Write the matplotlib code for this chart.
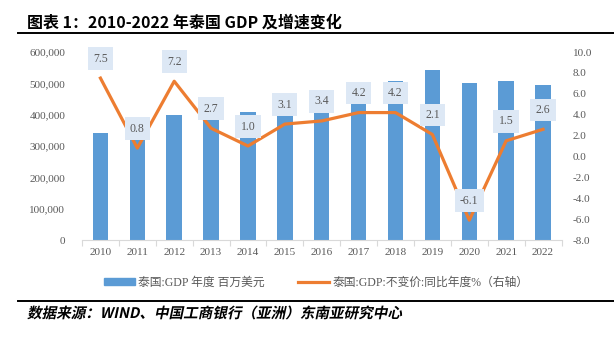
import matplotlib
matplotlib.use("Agg")
import matplotlib.pyplot as plt
from matplotlib.ticker import FuncFormatter, MultipleLocator, FixedLocator
from matplotlib.textpath import TextPath
from matplotlib.patches import PathPatch, Rectangle
from matplotlib.lines import Line2D
from matplotlib.font_manager import FontProperties
from matplotlib.transforms import Affine2D

# Thailand GDP (USD mn) and real GDP growth (% yoy)
years = ["2010", "2011", "2012", "2013", "2014", "2015", "2016",
         "2017", "2018", "2019", "2020", "2021", "2022"]
gdp_usd_mn = [341105, 370819, 397558, 420334, 407339, 401296, 413366,
              456357, 506754, 543977, 500462, 506256, 495423]
growth_pct = [7.5, 0.8, 7.2, 2.7, 1.0, 3.1, 3.4, 4.2, 4.2, 2.1, -6.1, 1.5, 2.6]

title = "图表 1：2010-2022 年泰国 GDP 及增速变化"
source = "数据来源：WIND、中国工商银行（亚洲）东南亚研究中心"
bar_label = "泰国:GDP 年度 百万美元"
line_label = "泰国:GDP:不变价:同比年度%（右轴）"

BLUE = "#5b9bd5"
ORANGE = "#ed7d31"
GREY = "#595959"
serif = ["Liberation Serif", "Noto Sans CJK SC"]

W, H, DPI = 614, 339, 100
fig = plt.figure(figsize=(W / DPI, H / DPI), dpi=DPI)

ax = fig.add_axes([82 / W, 1 - 240 / H, (561.5 - 82) / W, (240 - 52) / H])
x = list(range(len(years)))
ax.bar(x, gdp_usd_mn, width=0.42, color=BLUE, zorder=2)
ax.set_xlim(-0.5, len(years) - 0.5)
ax.set_ylim(0, 600000)
ax.yaxis.set_major_locator(MultipleLocator(100000))
ax.yaxis.set_major_formatter(FuncFormatter(lambda v, p: f"{int(v):,}"))
ax.set_xticks(x)
ax.set_xticklabels(years)
ax.xaxis.set_minor_locator(FixedLocator([i - 0.5 for i in range(len(years) + 1)]))
ax.tick_params(axis="x", which="major", length=0, pad=6)
ax.tick_params(axis="x", which="minor", length=4, color="#d9d9d9", width=0.8)
ax.tick_params(axis="y", length=0, pad=12)
for side in ["top", "left", "right"]:
    ax.spines[side].set_visible(False)
ax.spines["bottom"].set_color("#d9d9d9")

ax2 = ax.twinx()
ax2.plot(x, growth_pct, color=ORANGE, linewidth=2.3, zorder=3)
ax2.set_ylim(-8, 10)
ax2.yaxis.set_major_locator(MultipleLocator(2))
ax2.yaxis.set_major_formatter(FuncFormatter(lambda v, p: f"{v:.1f}"))
ax2.tick_params(axis="y", length=0, pad=8)
for side in ["top", "left", "right", "bottom"]:
    ax2.spines[side].set_visible(False)

for a in (ax, ax2):
    for lab in a.get_xticklabels() + a.get_yticklabels():
        lab.set_family(serif)
        lab.set_fontsize(8)
        lab.set_color(GREY)

# value boxes above each point
for xi, v in zip(x, growth_pct):
    ax2.annotate(f"{v:.1f}", (xi, v), xytext=(0, 14), textcoords="offset points",
                 ha="center", va="center", fontsize=8.5, family=serif, color=GREY,
                 bbox=dict(boxstyle="square,pad=0.45", fc="#dde8f5", ec="none"),
                 zorder=5)

handles = [Rectangle((0, 0), 1, 1, color=BLUE),
           Line2D([0], [0], color=ORANGE, linewidth=2.3)]
fig.legend(handles, [bar_label, line_label], loc="center",
           bbox_to_anchor=(316 / W, 1 - 283 / H), ncol=2, frameon=False,
           prop=FontProperties(family=serif, size=8.5), labelcolor=GREY,
           handlelength=2.6, handleheight=0.5, handletextpad=0.3,
           columnspacing=2.8)

# header and footer
fig.text(27 / W, 1 - 23 / H, title, ha="left", va="center", fontsize=11.5,
         fontweight="bold", family=["Noto Sans CJK SC", "DejaVu Sans"], color="black")
fig.add_artist(Line2D([18 / W, 1], [1 - 33 / H, 1 - 33 / H], color="black",
                      linewidth=1.4, transform=fig.transFigure))
fig.add_artist(Line2D([18 / W, 1], [1 - 301 / H, 1 - 301 / H], color="black",
                      linewidth=1.4, transform=fig.transFigure))

# slanted source line drawn as a path
tp = TextPath((0, 0), source, size=10.5,
              prop=FontProperties(family="Noto Sans CJK SC", weight="bold"))
tr = Affine2D().skew_deg(12, 0).scale(DPI / 72).translate(27, H - 318)
fig.add_artist(PathPatch(tp, transform=tr, fc="black", ec="none", lw=0))

fig.savefig("out.png", dpi=DPI, facecolor="white")
